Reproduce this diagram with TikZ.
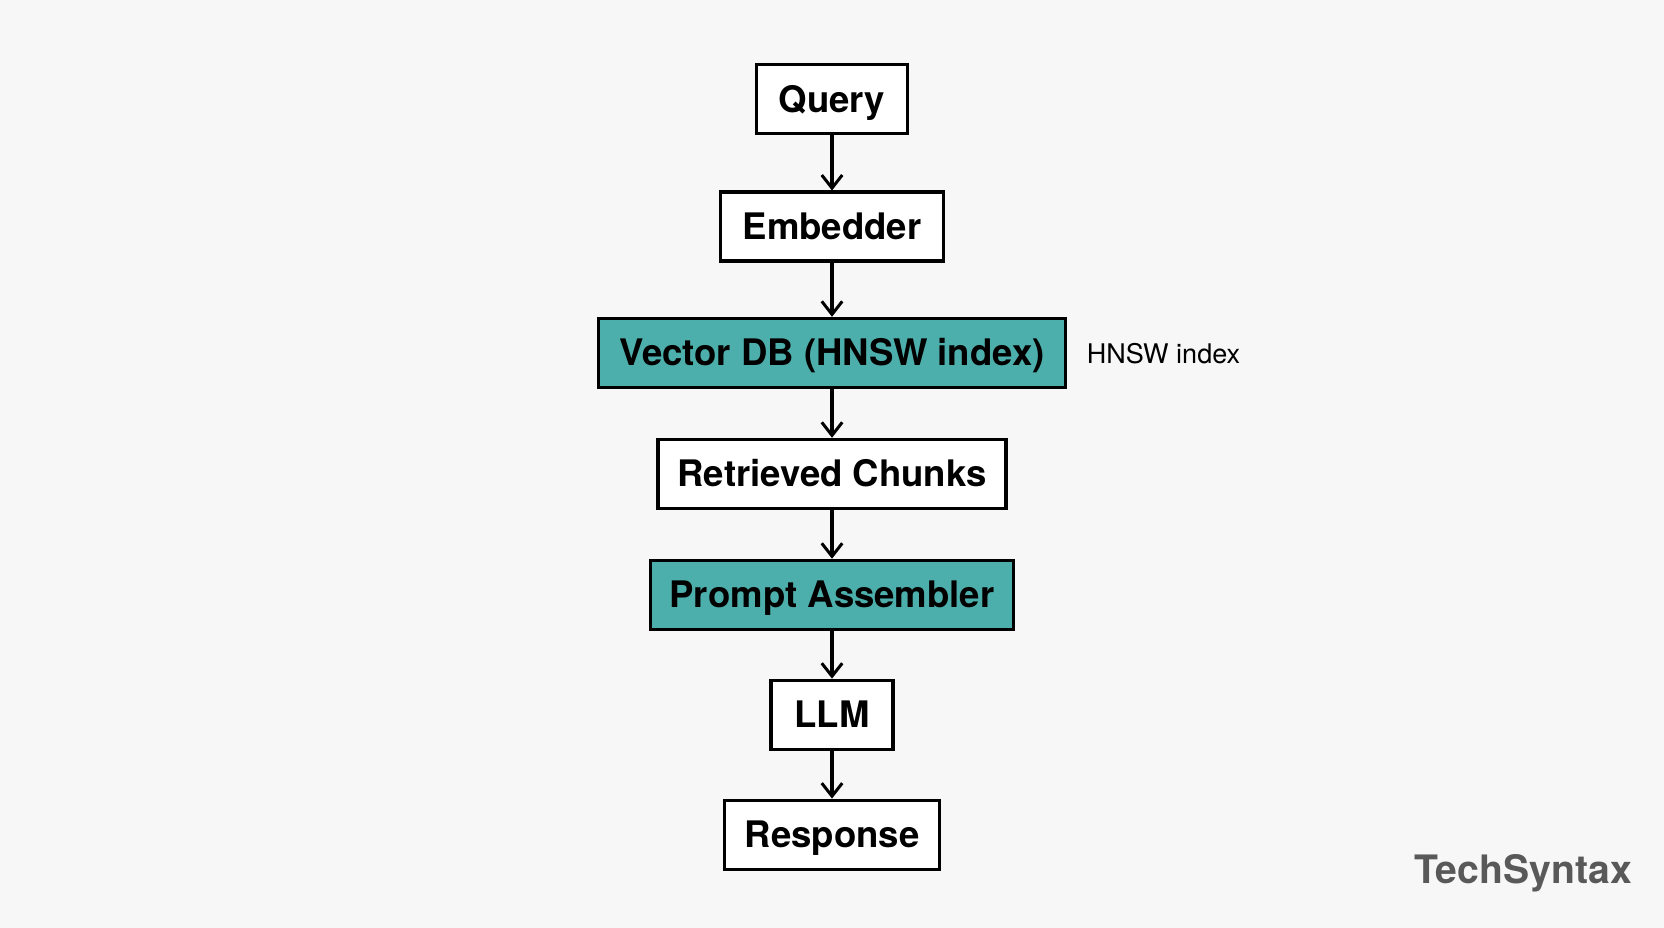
\documentclass[tikz,border=0pt]{standalone}
\usepackage{fontspec}
\setmainfont{TeX Gyre Heros}
\begin{document}
\begin{tikzpicture}[x=0.02cm,y=-0.02cm,
  box/.style={draw=black,line width=1.7pt,minimum height=1.3cm,inner sep=0pt,text height=17pt,text depth=3pt,font=\bfseries\fontsize{19.6}{22}\selectfont,fill=white},
  teal/.style={box,fill=tealc},
  arr/.style={-{Straight Barb[length=7pt,width=11pt,line width=1.6pt]},line width=1.7pt}]
\usetikzlibrary{arrows.meta}
\definecolor{tealc}{HTML}{4DAFAB}
\fill[white!97!black] (0,0) rectangle (1568,874);
\useasboundingbox (0,0) rectangle (1568,874);
\node[box,minimum width=142*0.02cm] (q) at (784,93.5) {Query};
\node[box,minimum width=210*0.02cm] (e) at (784,213.5) {Embedder};
\node[teal,minimum width=440*0.02cm] (v) at (784,332.5) {Vector DB (HNSW index)};
\node[box,minimum width=328*0.02cm] (r) at (784,446.5) {Retrieved Chunks};
\node[teal,minimum width=342*0.02cm] (p) at (784,560.5) {Prompt Assembler};
\node[box,minimum width=115*0.02cm] (l) at (784,673.5) {LLM};
\node[box,minimum width=202*0.02cm] (s) at (784,786.5) {Response};
\node[anchor=west,font=\fontsize{14.5}{17}\selectfont] (h) at (1018,333) {HNSW index};
\node[anchor=east,font=\bfseries\fontsize{21}{24}\selectfont,text=black!65] (t) at (1544,823) {TechSyntax};
\foreach \a/\b in {q/e,e/v,v/r,r/p,p/l,l/s} \draw[arr] (\a) -- (\b);
\end{tikzpicture}
\end{document}
